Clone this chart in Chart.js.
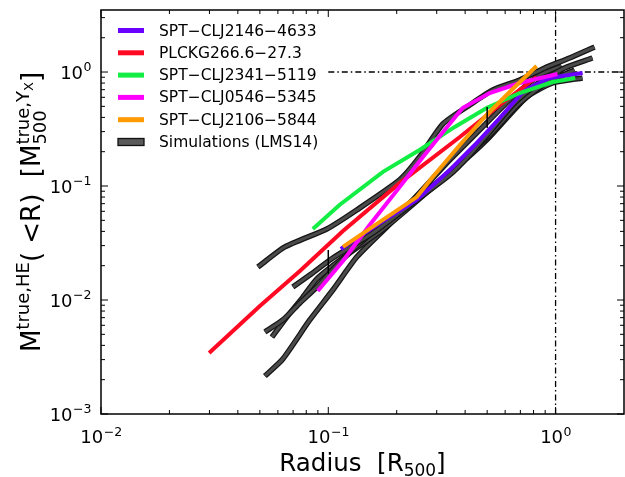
<!DOCTYPE html>
<html>
<head>
<meta charset="utf-8">
<script src="https://cdn.jsdelivr.net/npm/chart.js@4.4.1/dist/chart.umd.min.js"></script>
<style>
    html, body { margin: 0; padding: 0; background: #fff; }
    canvas { display: block; }
</style>
</head>
<body>
<canvas id="MASS_CHART" width="625" height="477"></canvas>
<script>
// radius in R500, mass ratio M(<R)/M500
const rSpt2146 = [0.1135, 0.174, 0.245, 0.342, 0.441, 0.568, 0.731, 0.941, 1.315];
const mSpt2146 = [0.0280, 0.0493, 0.0754, 0.138, 0.229, 0.395, 0.695, 0.886, 0.980];

const rPlck266 = [0.0299, 0.0500, 0.0750, 0.116, 0.206, 0.379, 0.568, 0.825];
const mPlck266 = [0.00343, 0.00886, 0.0180, 0.0403, 0.106, 0.269, 0.514, 0.904];

const rSpt2341 = [0.0855, 0.112, 0.174, 0.252, 0.360, 0.497, 0.695, 0.970, 1.22];
const mSpt2341 = [0.0420, 0.0681, 0.133, 0.207, 0.330, 0.483, 0.654, 0.817, 0.886];

const rSpt0546 = [0.0899, 0.116, 0.152, 0.206, 0.265, 0.325, 0.390, 0.513, 0.695, 1.02];
const mSpt0546 = [0.0120, 0.0220, 0.0455, 0.098, 0.187, 0.310, 0.483, 0.654, 0.801, 0.96];

const rSpt2106 = [0.116, 0.168, 0.245, 0.288, 0.379, 0.497, 0.641, 0.825];
const mSpt2106 = [0.0292, 0.0483, 0.080, 0.120, 0.229, 0.420, 0.695, 1.13];

// simulated clusters (LMS14)
const rSim1 = [0.0490, 0.0644, 0.0985, 0.1334, 0.206, 0.252, 0.319, 0.419, 0.529, 0.695, 0.895, 1.152, 1.484];
const mSim1 = [0.01946, 0.0292, 0.0420, 0.0616, 0.113, 0.1796, 0.350, 0.514, 0.695, 0.851, 1.084, 1.327, 1.657];
const rSim2 = [0.0698, 0.0829, 0.1047, 0.157, 0.245, 0.342, 0.419, 0.513, 0.660, 0.851, 1.095, 1.454];
const mSim2 = [0.0130, 0.01656, 0.02335, 0.0387, 0.0754, 0.125, 0.187, 0.298, 0.535, 0.817, 1.084, 1.327];
const rSim3 = [0.0526, 0.0631, 0.0750, 0.0890, 0.1124, 0.157, 0.228, 0.332, 0.463, 0.628, 0.851, 1.063];
const mSim3 = [0.00524, 0.00668, 0.00941, 0.0130, 0.0215, 0.0395, 0.0710, 0.159, 0.310, 0.568, 0.941, 1.129];
const rSim4 = [0.0565, 0.0657, 0.0773, 0.0890, 0.1159, 0.177, 0.279, 0.367, 0.513, 0.695, 0.922, 1.212];
const mSim4 = [0.00473, 0.00710, 0.0106, 0.01528, 0.02335, 0.0428, 0.0922, 0.153, 0.280, 0.535, 0.817, 1.041];
const rSim5 = [0.0526, 0.0631, 0.0829, 0.1047, 0.1334, 0.181, 0.252, 0.367, 0.497, 0.746, 0.970, 1.314];
const mSim5 = [0.00215, 0.00304, 0.00668, 0.01224, 0.0238, 0.0437, 0.0817, 0.147, 0.253, 0.603, 0.801, 0.886];

// small black markers at 0.1 and 0.5 R500
const rMark1 = [0.1, 0.1];
const mMark1 = [0.0275, 0.0170];
const rMark2 = [0.5, 0.5];
const mMark2 = [0.493, 0.323];

// dash-dot reference lines
const rRefH = [0.1, 2];
const mRefH = [1, 1];
const rRefV = [1, 1];
const mRefV = [0.001, 3.5];

const xMajor = [0.01, 0.1, 1];
const xTickExp = ['\u22122', '\u22121', '0'];
const yMajor = [0.001, 0.01, 0.1, 1];
const yTickExp = ['\u22123', '\u22122', '\u22121', '0'];

const legendNames = ['SPT\u2212CLJ2146\u22124633', 'PLCKG266.6\u221227.3', 'SPT\u2212CLJ2341\u22125119',
    'SPT\u2212CLJ0546\u22125345', 'SPT\u2212CLJ2106\u22125844', 'Simulations (LMS14)'];
const legendColors = ['#6a00ff', '#ff0a22', '#12ee44', '#ff00ff', '#ff9a00', '#5a5a5a'];

const FONT = '"DejaVu Sans", Verdana, sans-serif';

function pts(r, m){
    return r.map((v, i) => ({x: v, y: m[i]}));
}

function clusterLine(r, m, color){
    return {data: pts(r, m), borderColor: color, borderWidth: 4, tension: 0, pointRadius: 0};
}

function simLines(r, m){
    return [
        {data: pts(r, m), borderColor: '#4b4b4b', borderWidth: 3, tension: 0.2, pointRadius: 0},
        {data: pts(r, m), borderColor: '#151515', borderWidth: 5.5, tension: 0.2, pointRadius: 0}
    ];
}

function pow10(ctx, exp, x, yBase, align){
    ctx.font = `18px ${FONT}`;
    let w1 = ctx.measureText('10').width;
    ctx.font = `12.5px ${FONT}`;
    let w2 = ctx.measureText(exp).width;
    let x0 = align == 'right' ? x - w1 - w2 : x - (w1 + w2) / 2;
    ctx.textAlign = 'left';
    ctx.textBaseline = 'alphabetic';
    ctx.font = `18px ${FONT}`;
    ctx.fillText('10', x0, yBase);
    ctx.font = `12.5px ${FONT}`;
    ctx.fillText(exp, x0 + w1 + 0.5, yBase - 7.5);
}

// writes a run of [text, size, dy] pieces, returns the end x
function run(ctx, pieces, x){
    pieces.forEach(p => {
        ctx.font = `${p[1]}px ${FONT}`;
        ctx.fillText(p[0], x, p[2]);
        x += ctx.measureText(p[0]).width;
    });
    return x;
}

function width(ctx, pieces){
    let w = 0;
    pieces.forEach(p => { ctx.font = `${p[1]}px ${FONT}`; w += ctx.measureText(p[0]).width; });
    return w;
}

const decor = {
    id: 'decor',
    afterDraw(chart){
        const {ctx, chartArea: a, scales: {x, y}} = chart;
        ctx.save();
        ctx.fillStyle = '#000';
        ctx.strokeStyle = '#000';

        // frame
        ctx.lineWidth = 1.5;
        ctx.strokeRect(a.left, a.top, a.right - a.left, a.bottom - a.top);

        // inward ticks on all sides
        ctx.lineWidth = 1;
        function tk(x1, y1, x2, y2){
            ctx.beginPath(); ctx.moveTo(x1, y1); ctx.lineTo(x2, y2); ctx.stroke();
        }
        xMajor.forEach(d => {
            for(let k = 1; k < 10; k++){
                let v = d * k;
                if(v >= x.max) break;
                let p = x.getPixelForValue(v);
                let len = k == 1 ? 7 : 4;
                tk(p, a.bottom, p, a.bottom - len);
                tk(p, a.top, p, a.top + len);
            }
        });
        yMajor.forEach(d => {
            for(let k = 1; k < 10; k++){
                let v = d * k;
                if(v >= y.max) break;
                let p = y.getPixelForValue(v);
                let len = k == 1 ? 7 : 4;
                tk(a.left, p, a.left + len, p);
                tk(a.right, p, a.right - len, p);
            }
        });

        // tick labels
        xMajor.forEach((v, i) => pow10(ctx, xTickExp[i], x.getPixelForValue(v), a.bottom + 29, 'center'));
        yMajor.forEach((v, i) => pow10(ctx, yTickExp[i], a.left - 10, y.getPixelForValue(v) + 6.5, 'right'));

        // x title
        ctx.textAlign = 'left';
        ctx.textBaseline = 'alphabetic';
        let xt = [['Radius  [R', 24.5, 0], ['500', 17, 5], [']', 24.5, 0]];
        let xw = width(ctx, xt);
        ctx.save();
        ctx.translate((a.left + a.right) / 2 - xw / 2, 471);
        run(ctx, xt, 0);
        ctx.restore();

        // y title (rotated)
        ctx.save();
        ctx.translate(40, (a.top + a.bottom) / 2);
        ctx.rotate(-Math.PI / 2);
        let p1 = [['M', 26, 0], ['true,HE', 18, -11], ['( <R)  [M', 26, 0]];
        ctx.font = `18px ${FONT}`;
        let wSub = ctx.measureText('500').width;
        let wSup = width(ctx, [['true,Y', 18, 0], ['X', 13, 0]]);
        let yw = width(ctx, p1) + Math.max(wSub, wSup) + width(ctx, [[']', 26, 0]]);
        let cx = -yw / 2;
        cx = run(ctx, p1, cx);
        run(ctx, [['500', 18, 6]], cx);
        run(ctx, [['true,Y', 18, -11], ['X', 13, -7]], cx);
        cx += Math.max(wSub, wSup);
        run(ctx, [[']', 26, 0]], cx);
        ctx.restore();

        // legend
        ctx.textAlign = 'left';
        ctx.textBaseline = 'middle';
        ctx.font = `15.5px ${FONT}`;
        legendNames.forEach((name, i) => {
            let cy = 30.5 + i * 22.3;
            if(i == legendNames.length - 1){
                ctx.fillStyle = legendColors[i];
                ctx.fillRect(118, cy - 3.5, 26, 7);
                ctx.lineWidth = 1.3;
                ctx.strokeStyle = '#111';
                ctx.strokeRect(118, cy - 3.5, 26, 7);
            } else {
                ctx.fillStyle = legendColors[i];
                ctx.fillRect(118, cy - 2.5, 26, 5);
            }
            ctx.fillStyle = '#000';
            ctx.fillText(name, 159, cy + 1);
        });
        ctx.restore();
    }
};

let ctx = document.getElementById('MASS_CHART');

let datasets = [
    {data: pts(rMark1, mMark1), borderColor: '#000', borderWidth: 1.5, pointRadius: 0},
    {data: pts(rMark2, mMark2), borderColor: '#000', borderWidth: 1.5, pointRadius: 0},
    clusterLine(rSpt2106, mSpt2106, legendColors[4]),
    clusterLine(rSpt0546, mSpt0546, legendColors[3]),
    clusterLine(rSpt2341, mSpt2341, legendColors[2]),
    clusterLine(rPlck266, mPlck266, legendColors[1]),
    clusterLine(rSpt2146, mSpt2146, legendColors[0]),
    ...simLines(rSim1, mSim1),
    ...simLines(rSim2, mSim2),
    ...simLines(rSim3, mSim3),
    ...simLines(rSim4, mSim4),
    ...simLines(rSim5, mSim5),
    {data: pts(rRefH, mRefH), borderColor: '#000', borderWidth: 1.3, borderDash: [6, 3, 1.5, 3], pointRadius: 0},
    {data: pts(rRefV, mRefV), borderColor: '#000', borderWidth: 1.3, borderDash: [6, 3, 1.5, 3], pointRadius: 0}
];

let myChart = new Chart(ctx, {
    type: 'line',
    data: {datasets: datasets},
    options: {
        responsive: false,
        animation: false,
        layout: {
            padding: {left: 101, right: 1, top: 10, bottom: 63}
        },
        scales: {
            x: {
                type: 'logarithmic',
                min: 0.01,
                max: 2,
                ticks: {display: false},
                grid: {display: false},
                border: {display: false},
                afterFit: function(s){ s.height = 0; }
            },
            y: {
                type: 'logarithmic',
                min: 0.001,
                max: 3.5,
                ticks: {display: false},
                grid: {display: false},
                border: {display: false},
                afterFit: function(s){ s.width = 0; }
            }
        },
        plugins: {
            legend: {display: false},
            tooltip: {enabled: false}
        }
    },
    plugins: [decor]
});
</script>
</body>
</html>
